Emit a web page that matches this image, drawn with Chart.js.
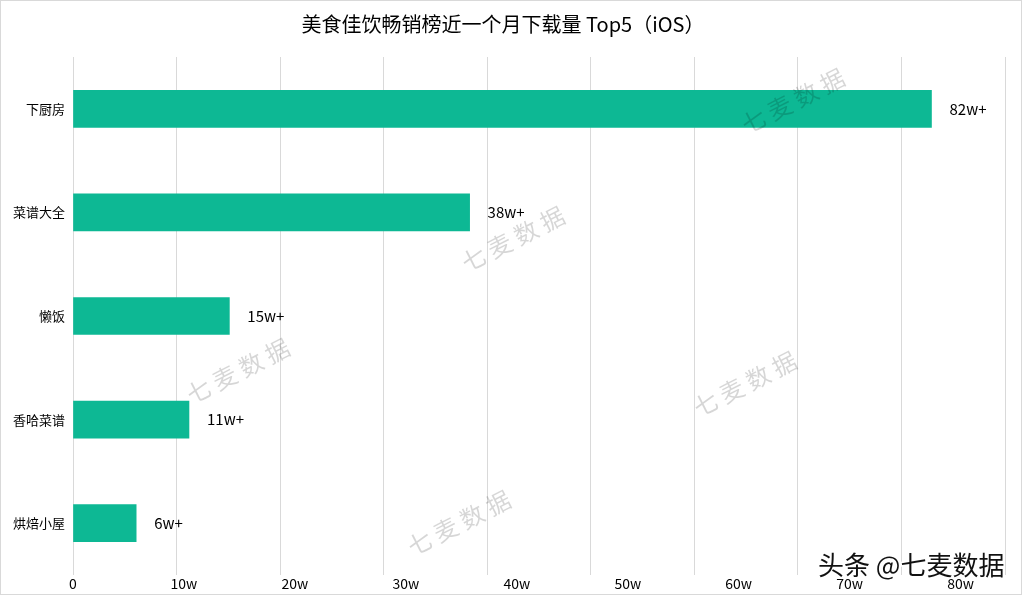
<!DOCTYPE html>
<html>
<head>
<meta charset="utf-8">
<script src="https://cdn.jsdelivr.net/npm/chart.js@4"></script>
<style>
  html, body { margin:0; padding:0; background:#fff; }
  #wrap { position:relative; width:1020px; height:593px; border:1px solid #d9d9d9; }
</style>
</head>
<body>
<div id="wrap"><canvas id="topChart"></canvas></div>
<script>
// data (unit: w = 10k downloads)
var apps = ["下厨房", "菜谱大全", "懒饭", "香哈菜谱", "烘焙小屋"];
var downloads = [82.9, 38.3, 15.1, 11.2, 6.1];
var valueLabels = ["82w+", "38w+", "15w+", "11w+", "6w+"];
var tickLabels = ["0", "10w", "20w", "30w", "40w", "50w", "60w", "70w", "80w"];
var watermarks = [[792,100],[512,238],[237,370],[744,383],[458,522]];

var cjk = '"Noto Sans CJK SC", "Noto Sans", sans-serif';

var barLabels = {
  id: 'barLabels',
  afterDatasetsDraw: function(chart){
    var ctx = chart.ctx;
    var meta = chart.getDatasetMeta(0);
    ctx.save();
    ctx.font = '15px ' + cjk;
    ctx.fillStyle = '#000';
    ctx.textAlign = 'left';
    ctx.textBaseline = 'middle';
    meta.data.forEach(function(bar, i){
      ctx.fillText(valueLabels[i], bar.x + 18, bar.y);
    });
    ctx.restore();
  },
  afterDraw: function(chart){
    var ctx = chart.ctx;
    ctx.save();
    ctx.font = '24px ' + cjk;
    ctx.fillStyle = 'rgba(0,0,0,0.16)';
    ctx.textAlign = 'center';
    ctx.textBaseline = 'middle';
    watermarks.forEach(function(p){
      ctx.save();
      ctx.translate(p[0], p[1]);
      ctx.rotate(-27 * Math.PI / 180);
      ctx.fillText("七 麦 数 据", 0, 0);
      ctx.restore();
    });
    ctx.font = '26px ' + cjk;
    ctx.textAlign = 'left';
    ctx.lineWidth = 3;
    ctx.strokeStyle = '#fff';
    ctx.strokeText("头条 @七麦数据", 817, 564);
    ctx.fillStyle = '#111';
    ctx.fillText("头条 @七麦数据", 817, 564);
    ctx.restore();
  }
};

new Chart(document.getElementById("topChart"), {
  type: 'bar',
  data: {
    labels: apps,
    datasets: [{
      data: downloads,
      backgroundColor: "#0DB894",
      barThickness: 37
    }]
  },
  options: {
    indexAxis: 'y',
    responsive: true,
    maintainAspectRatio: false,
    animation: false,
    layout: { padding: { left: 0, right: 16, top: 0, bottom: 0 } },
    plugins: {
      legend: { display: false },
      tooltip: { enabled: false },
      title: {
        display: true,
        text: "美食佳饮畅销榜近一个月下载量 Top5（iOS）",
        color: '#000',
        font: { family: cjk, size: 20, weight: 'normal' },
        padding: { top: 11, bottom: 21 }
      }
    },
    scales: {
      y: {
        grid: { display: false, drawTicks: false },
        border: { display: false },
        ticks: { color: '#000', font: { family: cjk, size: 13 }, padding: 8 },
        afterFit: function(scale){ scale.width = 72; }
      },
      x: {
        min: 0, max: 90,
        position: 'bottom',
        grid: { color: '#d9d9d9', drawTicks: false },
        border: { display: false },
        ticks: { display: false, stepSize: 10 },
        afterFit: function(scale){ scale.height = 0; }
      },
      xLabels: {
        type: 'linear',
        axis: 'x',
        position: 'bottom',
        min: 0, max: 84,
        grid: { display: false, drawTicks: false },
        border: { display: false },
        ticks: {
          stepSize: 10,
          padding: 0,
          color: '#000',
          font: { family: cjk, size: 14 },
          callback: function(v){ return tickLabels[v / 10] || ''; }
        },
        afterFit: function(scale){ scale.height = 19; }
      }
    }
  },
  plugins: [barLabels]
});
</script>
</body>
</html>
